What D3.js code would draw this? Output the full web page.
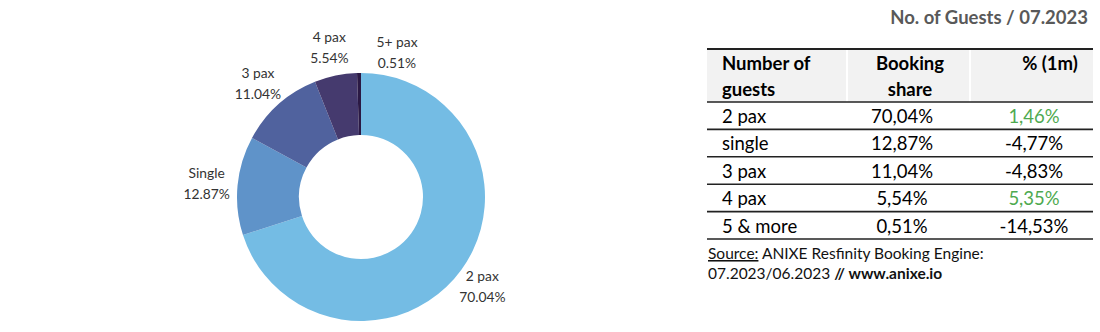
<!DOCTYPE html>
<html><head><meta charset="utf-8">
<script src="https://cdn.jsdelivr.net/npm/d3@7"></script>
<style>
html,body{margin:0;padding:0;background:#fff;}
svg{display:block;}
</style></head>
<body>
<svg id="c" width="1100" height="332"></svg>
<script>
// ---- data ----
const categories = ["2 pax", "Single", "3 pax", "4 pax", "5+ pax"];
const shares = [70.04, 12.87, 11.04, 5.54, 0.51];
const title = "No. of Guests / 07.2023";
const tableHeader = [["Number of", "guests"], ["Booking", "share"], ["% (1m)"]];
const tableRows = ["2 pax", "single", "3 pax", "4 pax", "5 & more"];
const bookingShare = [70.04, 12.87, 11.04, 5.54, 0.51];
const change1m = [1.46, -4.77, -4.83, 5.35, -14.53];
const sourceLine1 = ["Source:", " ANIXE Resfinity Booking Engine:"];
const sourceLine2 = ["07.2023/06.2023 ", "// www.anixe.io"];

// ---- styles ----
const sliceColors = ["#74BCE4", "#5F93C9", "#50629E", "#453A6E", "#2B1944"];
const green = "#4EAA50";
const FONT = "Lato, 'Open Sans', sans-serif";

const svg = d3.select("#c");
const loc = d3.formatLocale({decimal: ",", thousands: ".", grouping: [3], currency: ["", "€"]});
const fmtComma = loc.format(".2f");

// ---- donut ----
const cx = 361, cy = 197, R = 124, r0 = 62;
const pie = d3.pie().sort(null).value(d => d.v).startAngle(0).endAngle(2 * Math.PI);
const arcs = pie(categories.map((c, i) => ({c, v: shares[i], i})));
const arc = d3.arc().innerRadius(r0).outerRadius(R);
const g = svg.append("g").attr("transform", `translate(${cx},${cy})`);
g.selectAll("path").data(arcs).join("path")
  .attr("d", arc)
  .attr("fill", d => sliceColors[d.data.i]);

const labelArc = d3.arc().innerRadius(155).outerRadius(155);
const lab = g.selectAll("g.lab").data(arcs).join("g").attr("class", "lab")
  .attr("transform", d => {
    let [x, y] = labelArc.centroid(d);
    if (d.data.i === 1) { y -= 2; }
    if (d.data.i === 0) { x -= 4; y -= 4; }
    if (d.data.i === categories.length - 1) { x = 36; y = -147; }
    return `translate(${x},${y})`;
  });
lab.append("text").attr("text-anchor", "middle").attr("y", -3)
  .attr("font-family", FONT).attr("font-size", 13.8).attr("fill", "#333")
  .text(d => d.data.c);
lab.append("text").attr("text-anchor", "middle").attr("y", 18)
  .attr("font-family", FONT).attr("font-size", 13.8).attr("fill", "#333")
  .text(d => d.data.v.toFixed(2) + "%");

// ---- title ----
svg.append("text").attr("x", 1088).attr("y", 24).attr("text-anchor", "end")
  .attr("font-family", FONT).attr("font-weight", 700).attr("font-size", 18.5)
  .attr("fill", "#595959").text(title);

// ---- table ----
const tx0 = 707, tx1 = 1093;
const colEdges = [707, 847, 970, 1093];
const headTop = 49, headBottom = 102;
const rowY = d3.scaleLinear().domain([0, tableRows.length]).range([headBottom, 239]);
const T = svg.append("g");
for (let c = 0; c < 3; c++) {
  T.append("rect").attr("x", colEdges[c] + (c ? 1 : 0)).attr("y", headTop)
    .attr("width", colEdges[c + 1] - colEdges[c] - (c ? 1 : 0) - (c < 2 ? 1 : 0))
    .attr("height", headBottom - headTop).attr("fill", "#F2F2F2");
}
const fs = 18.5;
const headX = [{x: 722, a: "start"}, {x: 910, a: "middle"}, {x: 1050, a: "middle"}];
tableHeader.forEach((lines, c) => {
  lines.forEach((t, k) => {
    T.append("text").attr("x", headX[c].x).attr("y", 70 + k * 26)
      .attr("text-anchor", headX[c].a).attr("font-family", FONT)
      .attr("font-weight", 700).attr("font-size", fs).attr("fill", "#000").text(t);
  });
});
tableRows.forEach((name, i) => {
  const y = rowY(i) + 21;
  T.append("text").attr("x", 722).attr("y", y).attr("font-family", FONT)
    .attr("font-size", fs).attr("fill", "#000").text(name);
  T.append("text").attr("x", 902).attr("y", y).attr("text-anchor", "middle")
    .attr("font-family", FONT).attr("font-size", fs).attr("fill", "#000")
    .text(fmtComma(bookingShare[i]) + "%");
  T.append("text").attr("x", 1034).attr("y", y).attr("text-anchor", "middle")
    .attr("font-family", FONT).attr("font-size", fs)
    .attr("fill", change1m[i] > 0 ? green : "#000")
    .text(fmtComma(change1m[i]).replace("−", "-") + "%");
});
T.append("line").attr("x1", tx0).attr("x2", tx1).attr("y1", headTop).attr("y2", headTop)
  .attr("stroke", "#222").attr("stroke-width", 2);
d3.range(tableRows.length + 1).forEach(i => {
  const y = rowY(i);
  T.append("line").attr("x1", tx0).attr("x2", tx1).attr("y1", y).attr("y2", y)
    .attr("stroke", "#222").attr("stroke-width", 1.6);
});

// ---- source ----
const s1 = svg.append("text").attr("x", 708).attr("y", 259)
  .attr("font-family", FONT).attr("font-size", 15.5).attr("fill", "#111");
s1.append("tspan").attr("text-decoration", "underline").text(sourceLine1[0]);
s1.append("tspan").text(sourceLine1[1]);
const s2 = svg.append("text").attr("x", 708).attr("y", 279)
  .attr("font-family", FONT).attr("font-size", 15.5).attr("fill", "#111");
s2.append("tspan").text(sourceLine2[0]);
s2.append("tspan").attr("font-weight", 700).text(sourceLine2[1]);
</script>
</body></html>
